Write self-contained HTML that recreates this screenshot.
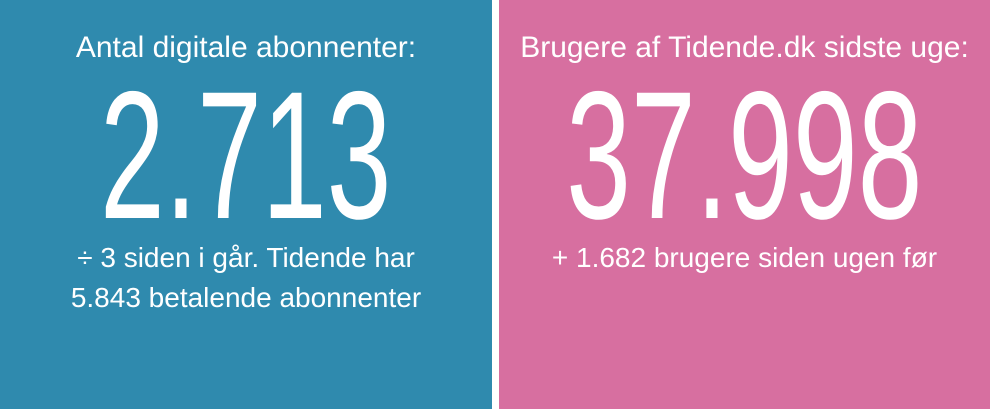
<!DOCTYPE html>
<html><head><style>
body{margin:0;width:990px;height:409px;overflow:hidden;background:#fff;font-family:"Liberation Sans",sans-serif;color:#fff}
.p{position:absolute;top:0;height:409px;overflow:hidden}
.t{position:absolute;left:0;right:0;text-align:center;white-space:nowrap}
.big{position:absolute;left:-300px;right:-300px;text-align:center;font-size:182px;line-height:1;top:64px;white-space:nowrap}
.big span{display:inline-block;transform:scaleX(0.64);transform-origin:center}
</style></head><body>
<div class="p" style="left:0;width:492px;background:#2f8aae">
 <div class="t" style="top:31px;font-size:30px">Antal digitale abonnenter:</div>
 <div class="big"><span>2.713</span></div>
 <div class="t" style="top:238px;font-size:28px;line-height:40px">÷ 3 siden i går. Tidende har<br>5.843 betalende abonnenter</div>
</div>
<div class="p" style="left:499px;width:491px;background:#d76fa0">
 <div class="t" style="top:31px;font-size:30px">Brugere af Tidende.dk sidste uge:</div>
 <div class="big"><span>37.998</span></div>
 <div class="t" style="top:238px;font-size:28px;line-height:40px">+ 1.682 brugere siden ugen før</div>
</div>
</body></html>
